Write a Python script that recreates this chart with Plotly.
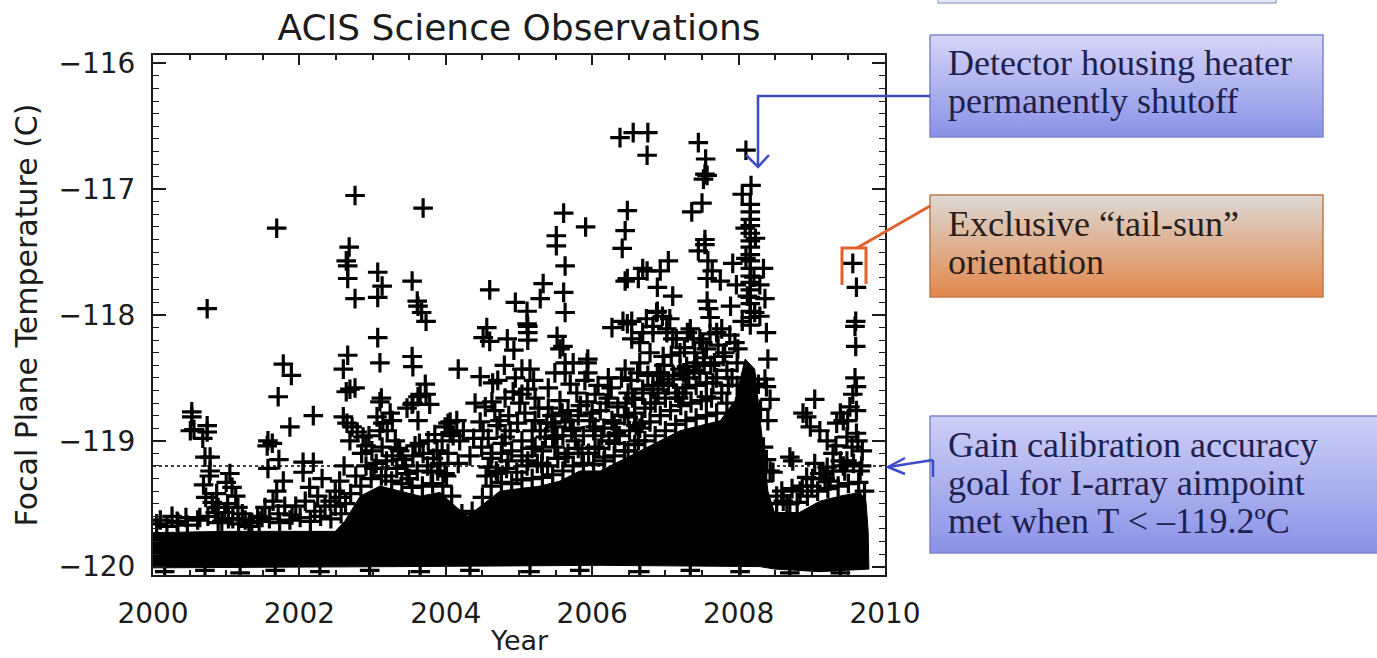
import plotly.graph_objects as go

# ---------------- data ----------------
goal_temp = -119.2  # gain-calibration goal (dotted line)

# envelope of the saturated (solid black) bulk of observations
core_upper_year = [2000.00, 2001.00, 2002.00, 2002.49, 2002.62, 2002.83, 2003.10, 2003.37, 2003.65, 2003.92,
                   2004.13, 2004.30, 2004.47, 2004.74, 2005.01, 2005.29, 2005.56, 2005.83, 2006.11, 2006.38,
                   2006.65, 2006.93, 2007.20, 2007.47, 2007.75, 2007.95, 2008.09, 2008.22, 2008.31, 2008.40,
                   2008.49, 2008.83, 2009.11, 2009.38, 2009.66, 2009.74, 2009.77, 2009.78]
core_upper_temp = [-119.73, -119.72, -119.72, -119.72, -119.64, -119.44, -119.36, -119.40, -119.44, -119.41,
                   -119.52, -119.60, -119.52, -119.40, -119.38, -119.36, -119.32, -119.24, -119.24, -119.16,
                   -119.08, -119.00, -118.92, -118.88, -118.84, -118.68, -118.35, -118.43, -118.92, -119.40,
                   -119.57, -119.57, -119.48, -119.44, -119.41, -119.48, -119.72, -119.96]
core_lower_year = [2000.00, 2003.37, 2006.11, 2008.29, 2008.50, 2009.11, 2009.78]
core_lower_temp = [-120.01, -120.00, -119.99, -120.00, -120.02, -120.04, -120.02]

# individual observations outside the saturated bulk
obs_a_year = [2000.74, 2001.69, 2001.78, 2001.89, 2001.71, 2001.87, 2002.19, 2000.53, 2000.53, 2000.51,
              2000.56, 2000.74, 2000.74, 2000.68, 2000.71, 2000.78, 2000.78, 2000.77, 2000.26, 2000.64,
              2000.81, 2000.85, 2000.89, 2000.72, 2000.94, 2001.05, 2001.00, 2001.08, 2001.13, 2001.02,
              2001.16, 2001.22, 2000.98, 2001.09, 2001.57, 2001.63, 2001.56, 2001.72, 2001.57, 2001.78,
              2001.69, 2001.64, 2001.53, 2001.80, 2001.71, 2001.43, 2002.05, 2002.19, 2002.05, 2002.31,
              2002.14, 2002.25, 2002.08, 2001.95, 2002.35, 2002.21, 2002.42, 2002.49, 2000.10, 2000.34,
              2000.45, 2001.26, 2001.35, 2001.49, 2001.90, 2002.49, 2000.69, 2000.87]
obs_a_temp = [-117.95, -117.31, -118.39, -118.48, -118.65, -118.89, -118.80, -118.77, -118.81, -118.92,
              -118.91, -118.88, -118.93, -118.98, -119.13, -119.13, -119.24, -119.28, -119.60, -119.61,
              -119.49, -119.57, -119.53, -119.45, -119.64, -119.26, -119.33, -119.37, -119.44, -119.50,
              -119.53, -119.58, -119.57, -119.62, -119.00, -119.02, -119.04, -119.15, -119.22, -119.32,
              -119.40, -119.48, -119.53, -119.52, -119.58, -119.60, -119.17, -119.17, -119.25, -119.30,
              -119.37, -119.44, -119.48, -119.52, -119.52, -119.56, -119.48, -119.40, -119.63, -119.65,
              -119.61, -119.63, -119.65, -119.61, -119.59, -119.52, -119.35, -119.42]

obs_b_year = [2002.76, 2002.68, 2002.64, 2002.66, 2002.66, 2002.76, 2003.07, 2003.13, 2003.07, 2003.07,
              2003.10, 2002.66, 2002.60, 2002.69, 2002.76, 2002.64, 2003.12, 2003.10, 2002.60, 2002.65,
              2002.72, 2002.79, 2002.87, 2003.06, 2003.14, 2003.20, 2003.24, 2003.27, 2003.10, 2002.69,
              2002.91, 2003.31, 2003.37, 2002.61, 2002.55, 2003.69, 2003.54, 2003.61, 2003.62, 2003.67,
              2003.73, 2003.54, 2003.55, 2003.72, 2003.65, 2003.55, 2003.47, 2003.78, 2003.73, 2003.54,
              2004.17, 2003.99, 2004.06, 2004.15, 2004.03, 2003.95, 2004.06, 2003.62, 2003.76, 2003.88,
              2003.58, 2003.62, 2004.03, 2004.17, 2003.99, 2004.19, 2004.33, 2004.47, 2004.47, 2004.51,
              2004.49, 2002.55, 2003.45, 2003.80,
              2002.95, 2003.02, 2003.18, 2003.35, 2003.50, 2003.64, 2003.85, 2003.92, 2004.10, 2004.24,
              2004.38, 2004.40]
obs_b_temp = [-117.05, -117.46, -117.57, -117.61, -117.71, -117.87, -117.66, -117.77, -117.86, -118.18,
              -118.38, -118.32, -118.43, -118.59, -118.58, -118.61, -118.66, -118.69, -118.81, -118.86,
              -118.89, -118.93, -118.97, -118.81, -118.86, -118.92, -118.78, -118.84, -118.92, -119.00,
              -119.04, -119.00, -119.08, -119.20, -119.32, -117.15, -117.73, -117.89, -117.93, -117.98,
              -118.05, -118.33, -118.41, -118.55, -118.63, -118.70, -118.74, -118.71, -118.63, -118.71,
              -118.43, -118.89, -118.85, -118.84, -118.86, -119.00, -118.94, -118.84, -119.00, -119.08,
              -119.04, -118.65, -119.10, -119.18, -119.26, -119.00, -119.12, -118.49, -118.85, -118.92,
              -119.05, -119.45, -119.20, -119.25,
              -118.96, -119.22, -119.28, -119.06, -119.30, -119.02, -118.95, -119.18, -118.96, -118.92,
              -118.98, -118.70]

obs_c_year = [2004.60, 2004.95, 2005.11, 2005.29, 2005.33, 2005.61, 2005.91, 2005.51, 2005.51, 2005.63,
              2005.61, 2005.63, 2004.56, 2004.51, 2004.60, 2004.84, 2004.93, 2005.12, 2005.12, 2005.12,
              2005.52, 2005.56, 2005.60, 2004.64, 2004.71, 2005.04, 2005.15, 2005.49, 2005.63, 2005.63,
              2005.74, 2005.93, 2005.94, 2004.54, 2004.63, 2004.67, 2004.81, 2004.92, 2005.04, 2005.12,
              2005.22, 2005.01, 2005.40, 2005.45, 2005.59, 2005.67, 2005.63, 2005.49, 2005.79, 2005.93,
              2004.74, 2004.88, 2004.81, 2005.22, 2005.29, 2005.81, 2005.97, 2004.63, 2004.77, 2004.85,
              2004.58, 2004.71, 2005.04, 2005.22, 2005.36, 2005.12, 2005.31, 2005.49, 2005.63, 2005.77,
              2005.86, 2005.45, 2005.72, 2005.94, 2005.11,
              2004.58, 2004.70, 2004.86, 2004.98, 2005.08, 2005.18, 2005.27, 2005.38, 2005.52, 2005.56,
              2005.70, 2005.84, 2005.90, 2004.95, 2005.20, 2005.40, 2005.70, 2004.80]
obs_c_temp = [-117.80, -117.90, -117.97, -117.87, -117.75, -117.19, -117.30, -117.37, -117.45, -117.61,
              -117.82, -117.98, -118.10, -118.18, -118.21, -118.19, -118.28, -118.09, -118.14, -118.20,
              -118.17, -118.27, -118.25, -118.54, -118.52, -118.43, -118.43, -118.46, -118.46, -118.38,
              -118.38, -118.38, -118.46, -118.73, -118.69, -118.76, -118.66, -118.61, -118.63, -118.59,
              -118.66, -118.70, -118.74, -118.80, -118.78, -118.76, -118.85, -118.89, -118.62, -118.69,
              -118.84, -118.92, -118.97, -118.84, -118.92, -118.80, -118.84, -119.10, -119.02, -119.16,
              -119.21, -119.26, -119.00, -119.05, -118.97, -119.16, -119.18, -119.05, -119.13, -119.00,
              -119.10, -118.86, -118.92, -118.35, -118.07,
              -118.98, -118.88, -118.80, -118.86, -118.78, -118.92, -118.74, -118.86, -118.96, -118.68,
              -118.84, -118.72, -118.52, -118.50, -118.52, -118.58, -118.55, -118.40]

obs_d_year = [2006.38, 2006.56, 2006.76, 2006.75, 2006.48, 2006.45, 2006.41, 2007.45, 2007.55, 2007.54,
              2007.52, 2007.57, 2007.50, 2007.36, 2008.10, 2008.17, 2008.05, 2007.54, 2007.54, 2007.45,
              2007.58, 2007.64, 2007.57, 2007.75, 2007.57, 2007.59, 2007.61, 2007.04, 2006.93, 2006.75,
              2006.89, 2007.10, 2006.48, 2006.63, 2006.45, 2006.69, 2007.92, 2007.77, 2006.27, 2006.42,
              2006.54, 2006.48, 2006.54, 2006.65, 2006.69, 2006.83, 2007.02, 2007.10, 2007.30, 2007.38,
              2007.51, 2007.61, 2006.89, 2006.96, 2007.06, 2006.22, 2006.45, 2006.65, 2006.89, 2007.20,
              2007.43, 2006.04, 2006.11, 2006.22, 2006.35, 2006.49, 2006.58, 2006.69, 2006.04, 2006.17,
              2006.31, 2006.49, 2006.63, 2006.04, 2006.27, 2006.49, 2006.68, 2006.74, 2006.88, 2006.83,
              2007.02, 2007.15, 2006.79, 2006.97, 2007.20, 2007.34, 2007.47, 2007.56, 2007.70, 2007.79,
              2007.29, 2006.93, 2007.11, 2007.47, 2007.65, 2006.83, 2007.24, 2007.56,
              2006.00, 2006.08, 2006.13, 2006.19, 2006.26, 2006.33, 2006.40, 2006.46, 2006.53, 2006.60,
              2006.62, 2006.76, 2006.80, 2006.90, 2006.98, 2007.04, 2007.08, 2007.18, 2007.26, 2007.32,
              2007.40, 2007.52, 2007.62, 2007.72, 2007.86, 2007.88]
obs_d_temp = [-116.59, -116.55, -116.55, -116.73, -117.17, -117.33, -117.47, -116.63, -116.76, -116.88,
              -116.92, -116.89, -117.11, -117.18, -116.69, -116.97, -117.04, -117.40, -117.44, -117.49,
              -117.57, -117.65, -117.71, -117.73, -117.89, -117.95, -118.02, -117.57, -117.65, -117.65,
              -117.78, -117.85, -117.71, -117.71, -117.73, -117.63, -117.59, -118.11, -118.10, -118.05,
              -118.05, -118.07, -118.19, -118.22, -118.14, -118.09, -118.14, -118.19, -118.14, -118.19,
              -118.22, -118.15, -117.97, -118.01, -118.03, -118.50, -118.43, -118.38, -118.46, -118.43,
              -118.38, -118.63, -118.76, -118.66, -118.73, -118.62, -118.67, -118.59, -119.05, -119.13,
              -119.02, -119.08, -119.00, -118.89, -118.84, -118.81, -118.86, -118.03, -117.98, -118.14,
              -118.11, -118.19, -118.30, -118.33, -118.30, -118.11, -118.19, -118.27, -118.14, -118.33,
              -118.41, -118.46, -118.51, -118.46, -118.54, -118.59, -118.62, -118.65,
              -118.78, -118.56, -118.96, -118.70, -118.58, -118.94, -118.50, -118.70, -118.52, -118.88,
              -118.46, -118.48, -118.70, -118.62, -118.40, -118.56, -118.32, -118.66, -118.26, -118.50,
              -118.30, -118.34, -118.40, -118.24, -118.56, -118.16]

# the heater-shutoff column in early 2008
obs_col_year = [2008.16, 2008.16, 2008.16, 2008.16, 2008.16, 2008.16, 2008.16, 2008.16, 2008.16, 2008.16,
                2008.16, 2008.16, 2008.16, 2008.16, 2008.16, 2008.16, 2008.16, 2008.16, 2008.09, 2008.23,
                2008.34, 2008.29, 2008.36, 2007.97, 2007.89, 2008.29, 2008.38, 2007.99, 2008.40, 2008.36,
                2008.43, 2008.40, 2008.38, 2008.10, 2008.21, 2008.12, 2008.22, 2008.05, 2008.37, 2008.34,
                2008.30, 2008.34, 2008.38, 2008.27]
obs_col_temp = [-117.12, -117.18, -117.24, -117.29, -117.35, -117.41, -117.46, -117.52, -117.57, -117.63,
                -117.69, -117.74, -117.80, -117.86, -117.91, -117.97, -118.02, -118.08, -117.31, -117.39,
                -117.63, -117.76, -117.87, -117.76, -117.93, -118.01, -118.14, -118.27, -118.35, -118.51,
                -118.67, -118.84, -118.57, -117.55, -117.70, -117.85, -117.98, -118.05, -119.24, -119.32,
                -118.75, -119.05, -119.15, -118.55]

obs_e_year = [2009.56, 2009.61, 2009.60, 2009.59, 2009.60, 2009.59, 2009.61, 2009.56, 2009.52, 2009.61,
              2009.49, 2009.61, 2009.55, 2009.48, 2009.39, 2009.43, 2009.34, 2009.48, 2009.29, 2009.39,
              2009.04, 2008.93, 2008.98, 2009.11, 2009.21, 2008.88, 2009.04, 2009.21, 2009.11, 2008.93,
              2008.70, 2008.74, 2008.43, 2008.47, 2008.70, 2008.61, 2008.52, 2009.33, 2009.45, 2009.25,
              2008.84, 2009.00, 2009.18, 2009.66, 2009.69, 2009.63]
obs_e_temp = [-117.59, -117.78, -118.05, -118.09, -118.25, -118.50, -118.57, -118.63, -118.73, -118.76,
              -118.84, -118.94, -119.05, -119.16, -118.78, -118.84, -118.86, -118.97, -119.10, -119.16,
              -118.67, -118.81, -118.89, -118.92, -119.00, -118.78, -119.18, -119.21, -119.26, -119.29,
              -119.13, -119.16, -119.24, -119.25, -119.50, -119.48, -119.44, -119.04, -119.24, -119.32,
              -119.40, -119.36, -119.30, -119.24, -119.08, -119.00]

# observations crowding the upper edge of the saturated bulk
edge_early_year = [2000.05, 2000.19, 2000.33, 2000.47, 2000.61, 2000.75, 2000.89, 2001.03, 2001.17, 2001.31,
                   2001.45, 2001.59, 2001.73, 2001.87, 2002.01, 2002.15, 2002.29, 2002.43]
edge_early_temp = [-119.66, -119.68, -119.64, -119.67, -119.63, -119.60, -119.65, -119.62, -119.66, -119.68,
                   -119.64, -119.62, -119.65, -119.63, -119.61, -119.64, -119.60, -119.62]

edge_2003_year = [2002.57, 2002.70, 2002.84, 2002.98, 2003.12, 2003.26, 2003.40, 2003.54, 2003.68, 2003.82,
                  2003.96, 2004.08, 2004.22, 2004.36, 2004.50,
                  2002.63, 2002.77, 2002.91, 2003.05, 2003.19, 2003.33, 2003.47, 2003.61, 2003.75, 2003.89,
                  2004.01,
                  2002.85, 2002.99, 2003.13, 2003.27, 2003.41, 2003.55, 2003.69, 2003.83]
edge_2003_temp = [-119.58, -119.42, -119.36, -119.30, -119.28, -119.32, -119.34, -119.37, -119.36, -119.34,
                  -119.36, -119.44, -119.58, -119.56, -119.45,
                  -119.50, -119.28, -119.20, -119.18, -119.16, -119.22, -119.26, -119.24, -119.20, -119.24,
                  -119.28,
                  -119.10, -119.08, -119.05, -119.12, -119.15, -119.12, -119.10, -119.14]

edge_mid_year = [2004.62, 2004.76, 2004.90, 2005.04, 2005.18, 2005.32, 2005.46, 2005.60, 2005.74, 2005.88,
                 2006.02, 2006.16, 2006.30, 2006.44, 2006.58, 2006.72, 2006.86, 2007.00, 2007.14, 2007.28,
                 2007.42, 2007.56, 2007.70, 2007.84, 2007.98,
                 2004.55, 2004.69, 2004.83, 2004.97, 2005.11, 2005.25, 2005.39, 2005.53, 2005.67, 2005.81,
                 2005.95, 2006.09, 2006.23, 2006.37, 2006.51, 2006.65, 2006.79, 2006.93, 2007.07, 2007.21,
                 2007.35, 2007.49, 2007.63, 2007.77, 2007.91,
                 2004.62, 2004.76, 2004.90, 2005.04, 2005.18, 2005.32, 2005.46, 2005.60, 2005.74, 2005.88,
                 2006.02, 2006.16, 2006.30, 2006.44, 2006.58, 2006.72, 2006.86, 2007.00, 2007.14, 2007.28,
                 2007.42, 2007.56, 2007.70, 2007.84, 2007.98,
                 2006.55, 2006.69, 2006.83, 2006.97, 2007.11, 2007.25, 2007.39, 2007.53, 2007.67, 2007.81,
                 2007.95]
edge_mid_temp = [-119.36, -119.33, -119.34, -119.31, -119.30, -119.29, -119.27, -119.24, -119.20, -119.18,
                 -119.19, -119.16, -119.12, -119.08, -119.03, -119.00, -118.96, -118.92, -118.87, -118.84,
                 -118.82, -118.80, -118.78, -118.70, -118.56,
                 -119.28, -119.24, -119.22, -119.25, -119.20, -119.18, -119.20, -119.14, -119.10, -119.06,
                 -119.10, -119.06, -119.00, -118.96, -118.92, -118.90, -118.85, -118.80, -118.76, -118.72,
                 -118.70, -118.68, -118.66, -118.62, -118.50,
                 -119.14, -119.10, -119.08, -119.12, -119.06, -119.08, -118.98, -118.96, -118.90, -118.96,
                 -118.92, -118.90, -118.86, -118.80, -118.78, -118.74, -118.70, -118.66, -118.62, -118.58,
                 -118.56, -118.54, -118.50, -118.44, -118.38,
                 -118.66, -118.62, -118.56, -118.54, -118.48, -118.46, -118.44, -118.40, -118.38, -118.30,
                 -118.22]

edge_late_year = [2008.52, 2008.66, 2008.80, 2008.94, 2009.08, 2009.22, 2009.36, 2009.50, 2009.64, 2009.72,
                  2008.59, 2008.73, 2008.87, 2009.01, 2009.15, 2009.29, 2009.43, 2009.57, 2009.68]
edge_late_temp = [-119.50, -119.50, -119.49, -119.44, -119.40, -119.38, -119.36, -119.34, -119.33, -119.40,
                  -119.40, -119.38, -119.36, -119.30, -119.26, -119.24, -119.20, -119.18, -119.20]

obs_floor_year = [2000.16, 2000.71, 2001.19, 2001.67, 2002.28, 2002.96, 2003.65, 2004.33, 2005.15, 2005.83,
                  2006.65, 2007.34, 2008.02, 2008.70, 2009.39]
obs_floor_temp = [-120.04, -120.03, -120.05, -120.03, -120.04, -120.03, -120.04, -120.03, -120.04, -120.03,
                  -120.04, -120.03, -120.04, -120.05, -120.05]

x_tick_years = [2000, 2002, 2004, 2006, 2008, 2010]
y_tick_temps = [-120, -119, -118, -117, -116]

# ---------------- figure ----------------
W, H = 1377, 658
L, R, T, B = 153, 885, 55, 575
AX = '#1c1c1c'

fig = go.Figure()

fig.add_trace(go.Scatter(x=[2000, 2010], y=[goal_temp, goal_temp], mode='lines',
                         line=dict(color='black', width=1.6, dash='dot'), hoverinfo='skip'))

core_x = core_upper_year + core_lower_year[::-1]
core_y = core_upper_temp + core_lower_temp[::-1]
fig.add_trace(go.Scatter(x=core_x, y=core_y, mode='lines', fill='toself', fillcolor='black',
                         line=dict(color='black', width=1), hoverinfo='skip'))

all_year = (obs_a_year + obs_b_year + obs_c_year + obs_d_year + obs_col_year + obs_e_year
            + edge_early_year + edge_2003_year + edge_mid_year + edge_late_year + obs_floor_year)
all_temp = (obs_a_temp + obs_b_temp + obs_c_temp + obs_d_temp + obs_col_temp + obs_e_temp
            + edge_early_temp + edge_2003_temp + edge_mid_temp + edge_late_temp + obs_floor_temp)
fig.add_trace(go.Scatter(x=all_year, y=all_temp, mode='markers',
                         marker=dict(symbol='cross-thin', size=14, color='black',
                                     line=dict(color='black', width=3.2))))

# ---- callout boxes drawn on a pixel-space overlay subplot ----
boxes = [
    dict(x0=930, x1=1323, y0=35, y1=137, top='#d4d6f7', bot='#8a91e6', border='#7d87cc'),
    dict(x0=930, x1=1323, y0=195, y1=297, top='#dcd9d5', bot='#e2874b', border='#c27a50'),
    dict(x0=930, x1=1380, y0=416, y1=553, top='#cdd0f6', bot='#8b92e6', border='#7d87cc'),
]
for b in boxes:
    fig.add_trace(go.Scatter(
        x=[b['x0'], b['x1'], b['x1'], b['x0'], b['x0']],
        y=[b['y0'], b['y0'], b['y1'], b['y1'], b['y0']],
        xaxis='x2', yaxis='y2', mode='lines', fill='toself',
        line=dict(color=b['border'], width=1.5),
        fillgradient=dict(type='vertical', colorscale=[[0, b['top']], [1, b['bot']]],
                          start=b['y0'], stop=b['y1']),
        hoverinfo='skip'))

BLUE = '#3b4cc6'
ORANGE = '#e0622c'
shapes = [
    dict(type='path', path='M 930 96 L 758 96 L 758 166', line=dict(color=BLUE, width=2.5)),
    dict(type='path', path='M 746 155 L 758 167 L 769 155', line=dict(color=BLUE, width=2.5)),
    dict(type='line', x0=930, y0=206, x1=857, y1=248, line=dict(color=ORANGE, width=3)),
    dict(type='path', path='M 842 285 L 842 248 L 866 248 L 866 284', line=dict(color=ORANGE, width=3)),
    dict(type='line', x0=933, y0=460, x1=888, y1=467, line=dict(color=BLUE, width=2.5)),
    dict(type='path', path='M 905 458 L 888 467 L 905 474', line=dict(color=BLUE, width=2.5)),
    dict(type='line', x0=933, y0=460, x1=933, y1=477, line=dict(color=BLUE, width=2.5)),
    dict(type='rect', x0=938, x1=1276, y0=-10, y1=3, fillcolor='#e6e9f7', line=dict(color='#a9b2da', width=1.5)),
]
for s in shapes:
    s.update(xref='x2', yref='y2', layer='above')

SERIF = 'Liberation Serif, Times New Roman, serif'
text_lines = [
    ('Detector housing heater', 946, 63, '#1e2150'),
    ('permanently shutoff', 946, 101, '#1e2150'),
    ('Exclusive \u201ctail-sun\u201d', 946, 224, '#2a201b'),
    ('orientation', 946, 262, '#2a201b'),
    ('Gain calibration accuracy', 946, 445, '#1e2150'),
    ('goal for I-array aimpoint', 946, 483, '#1e2150'),
    ('met when T < \u2013119.2\u00baC', 946, 521, '#1e2150'),
]
annotations = [dict(text=t, x=x, y=y, xref='x2', yref='y2', xanchor='left', yanchor='middle',
                    showarrow=False, font=dict(family=SERIF, size=36, color=c))
               for t, x, y, c in text_lines]
# x-axis title placed explicitly, kept fully inside the page
annotations.append(dict(text='Year', x=519, y=640, xref='x2', yref='y2', xanchor='center',
                        yanchor='middle', showarrow=False, borderpad=0,
                        font=dict(family='DejaVu Sans', size=27, color=AX)))

fig.update_layout(
    template='none',
    width=W, height=H, autosize=False,
    margin=dict(l=0, r=0, t=0, b=0, pad=0),
    paper_bgcolor='white', plot_bgcolor='rgba(0,0,0,0)',
    showlegend=False,
    font=dict(family='DejaVu Sans', color=AX),
    title=dict(text='ACIS Science Observations', x=519 / W, y=1 - 27 / H,
               xref='container', yref='container', xanchor='center', yanchor='middle',
               font=dict(family='DejaVu Sans', size=36, color=AX)),
    xaxis=dict(domain=[L / W, R / W], range=[2000, 2010], anchor='y',
               tickmode='array', tickvals=x_tick_years, ticktext=[str(v) for v in x_tick_years],
               ticks='inside', ticklen=10, tickwidth=1.5, tickcolor=AX,
               showline=True, linecolor=AX, linewidth=2, mirror='allticks',
               showgrid=False, zeroline=False, tickfont=dict(size=28, color=AX),
               ticklabelstandoff=12,
               minor=dict(dtick=0.5, tick0=2000, ticks='inside', ticklen=5, tickwidth=1.5,
                          tickcolor=AX, showgrid=False)),
    yaxis=dict(domain=[1 - B / H, 1 - T / H], range=[-120.0668, -115.9332], anchor='x',
               tickmode='array', tickvals=y_tick_temps,
               ticks='inside', ticklen=13, tickwidth=1.5, tickcolor=AX,
               showline=True, linecolor=AX, linewidth=2, mirror='allticks',
               showgrid=False, zeroline=False, tickfont=dict(size=28, color=AX),
               ticklabelstandoff=10,
               minor=dict(dtick=0.1, tick0=-120, ticks='inside', ticklen=6, tickwidth=1.3,
                          tickcolor=AX, showgrid=False),
               title=dict(text='Focal Plane Temperature (C)', font=dict(size=30, color=AX), standoff=12)),
    xaxis2=dict(domain=[0, 1], range=[0, W], anchor='y2', visible=False, fixedrange=True),
    yaxis2=dict(domain=[0, 1], range=[H, 0], anchor='x2', visible=False, fixedrange=True),
    shapes=shapes,
    annotations=annotations,
)

fig.write_html('out.html')
